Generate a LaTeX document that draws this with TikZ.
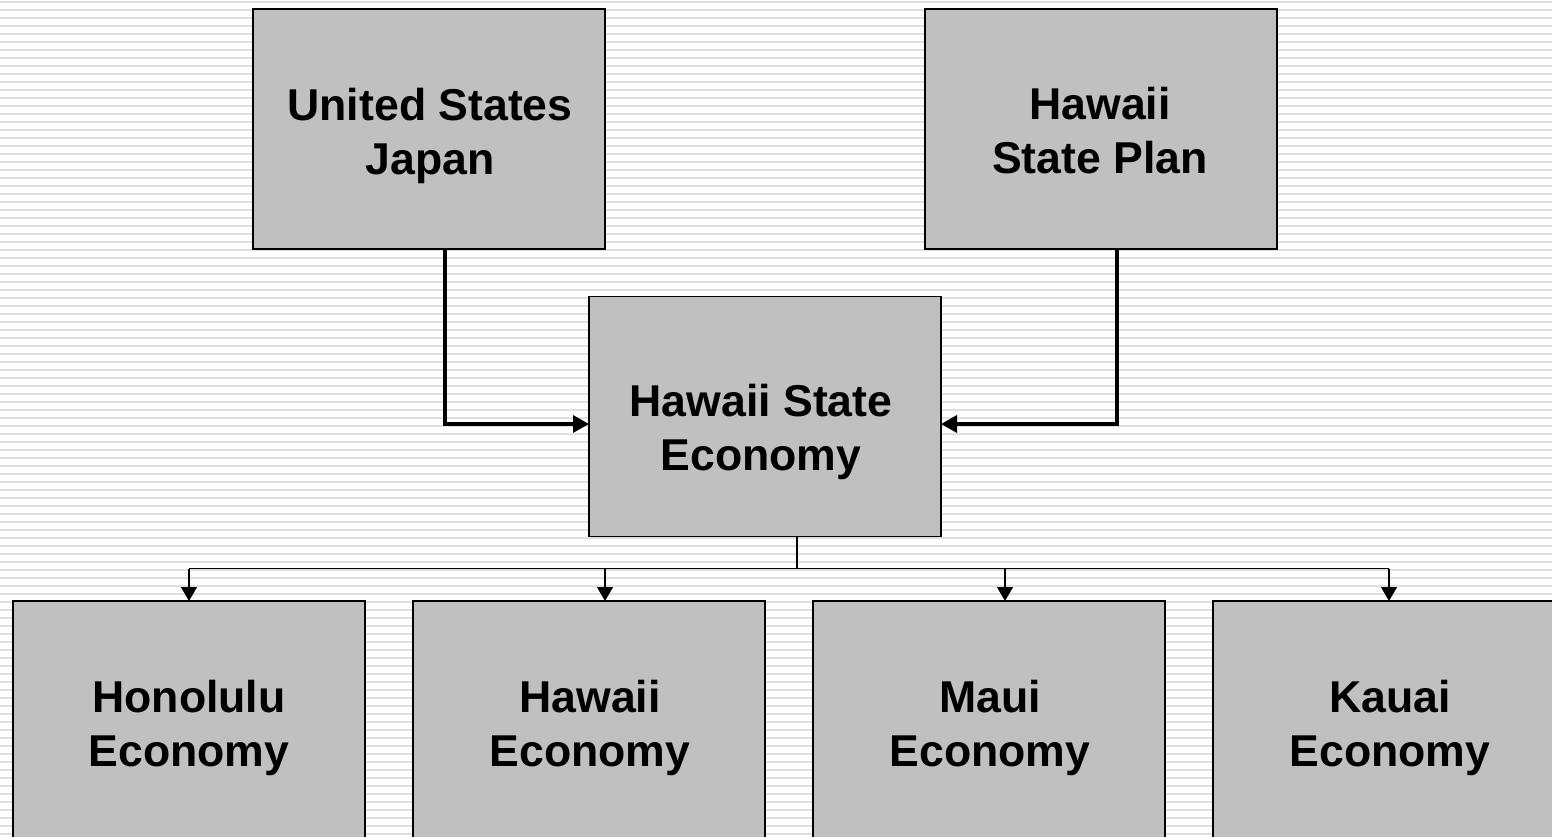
\documentclass[tikz,border=0pt]{standalone}
\usepackage{fontspec}
\setmainfont{Liberation Sans}
\usetikzlibrary{arrows.meta}
\definecolor{boxgray}{HTML}{C0C0C0}
\definecolor{stripegray}{HTML}{DFDFDF}
\begin{document}
\begin{tikzpicture}[x=1pt,y=-1pt,
  box/.style={draw=black,line width=1.6pt,fill=boxgray,minimum width=352pt,minimum height=240pt,inner sep=0pt,outer sep=0pt},
  txt/.style={align=center,font=\fontsize{44.6}{54}\selectfont\bfseries,inner sep=0pt},
  stripe/.style={stripegray,line width=2pt},
  bigarrow/.style={line width=3.5pt,-{Triangle[length=16pt,width=17pt]}},
  smallarrow/.style={line width=1.5pt,-{Triangle[length=14pt,width=16pt]}},
  bus/.style={line width=1.5pt}]
\useasboundingbox (0,0) rectangle (1552,837);
\clip (0,0) rectangle (1552,837);
\fill[white] (0,0) rectangle (1552,837);
\foreach \i in {0,...,104} \draw[stripe] (0,{1.7+8*\i}) -- (1552,{1.7+8*\i});
% boxes
\node[box] (us) at (429,129) {};
\node[box] (hsp) at (1101,129) {};
\node[box] (hse) at (765,416.5) {};
\node[box] (hon) at (189,721) {};
\node[box] (haw) at (589,721) {};
\node[box] (mau) at (989,721) {};
\node[box] (kau) at (1389,721) {};
% texts
\node[txt] (ust) at (430,136) {United States\\Japan};
\node[txt] (hspt) at (1100,131) {Hawaii\\State Plan};
\node[txt] (hset) at (761,432) {Hawaii State\\Economy};
\node[txt] (hont) at (189,728) {Honolulu\\Economy};
\node[txt] (hawt) at (590,728) {Hawaii\\Economy};
\node[txt] (maut) at (990,728) {Maui\\Economy};
\node[txt] (kaut) at (1390,728) {Kauai\\Economy};
% top arrows
\coordinate (l1) at (445,249);
\coordinate (r1) at (1117,249);
\draw[bigarrow] (l1) |- ([yshift=-7.5pt]hse.west);
\draw[bigarrow] (r1) |- ([yshift=-7.5pt]hse.east);
% bottom tree
\coordinate (j) at (797,568.5);
\coordinate (a1) at (189,568.5);
\coordinate (a2) at (605,568.5);
\coordinate (a3) at (1005,568.5);
\coordinate (a4) at (1389,568.5);
\draw[bus] (hse.south -| j) -- (j);
\draw[bus] (a1) -- (a4);
\draw[smallarrow] (a1) -- (a1 |- hon.north);
\draw[smallarrow] (a2) -- (a2 |- haw.north);
\draw[smallarrow] (a3) -- (a3 |- mau.north);
\draw[smallarrow] (a4) -- (a4 |- kau.north);
\end{tikzpicture}
\end{document}
